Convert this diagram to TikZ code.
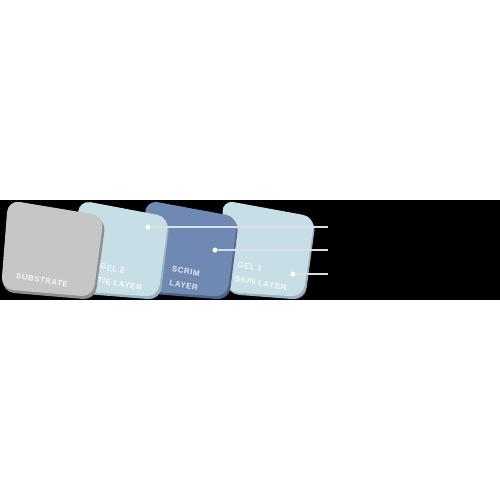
\documentclass[tikz,border=0pt]{standalone}
\usepackage{fontspec}
\setmainfont{Liberation Sans}[LetterSpace=7]
\usepackage{tikz}

\definecolor{subgrey}{HTML}{C6C6C6}
\definecolor{subshade}{HTML}{8E8E8E}
\definecolor{gelblue}{HTML}{C8DEE6}
\definecolor{gelshade}{HTML}{9CB2BE}
\definecolor{scrimblue}{HTML}{6F89B3}
\definecolor{scrimshade}{HTML}{4C638C}
\definecolor{leadgrey}{HTML}{D6DEE6}

\tikzset{
    card/.style={rounded corners=12pt},
    lbl/.style={text=white, opacity=0.8, font=\bfseries\fontsize{8}{14}\selectfont,
        align=left, rotate=-10, inner sep=0pt},
    dot/.style={circle, fill=white, inner sep=0pt, minimum size=5pt},
    leader/.style={leadgrey, line width=1.4pt}
}

\begin{document}
\begin{tikzpicture}[x=1pt,y=-1pt]
    \useasboundingbox (0,0) rectangle (500,500);
    \fill[white] (0,0) rectangle (500,500);
    \fill[black] (0,200) rectangle (500,300);
    % gel 1 (back)
    \fill[card, gelshade] (223,201) -- (316,219) -- (305,300) -- (227,294) -- cycle;
    \fill[card, gelblue] (222,200) -- (315,217) -- (303,297) -- (226,292) -- cycle;
    % scrim
    \fill[card, scrimshade] (147,201) -- (239,219) -- (229,300) -- (141,293) -- cycle;
    \fill[card, scrimblue] (146,200) -- (238,217) -- (227,297) -- (140,291) -- cycle;
    % gel 2
    \fill[card, gelshade] (80,201) -- (170,219) -- (160,300) -- (73,293) -- cycle;
    \fill[card, gelblue] (79,200) -- (169,217) -- (158,297) -- (72,291) -- cycle;
    % substrate (front)
    \fill[card, subshade] (9,202) -- (106,219) -- (95,300) -- (2,292) -- cycle;
    \fill[card, subgrey] (8,200) -- (104,216) -- (93,297) -- (1,289) -- cycle;
    % labels
    \node[lbl] (substratelbl) at (42,280) {SUBSTRATE};
    \node[lbl] (tielbl) at (121,277) {GEL 2\\TIE LAYER};
    \node[lbl] (scrimlbl) at (185,278) {SCRIM\\LAYER};
    \node[lbl] (skinlbl) at (262,276) {GEL 1\\SKIN LAYER};
    % leaders
    \node[dot] (tiedot) at (148,227) {};
    \node[dot] (scrimdot) at (215,250) {};
    \node[dot] (skindot) at (293,274) {};
    \coordinate (tieend) at (328,227);
    \coordinate (scrimend) at (328,250);
    \coordinate (skinend) at (328,274);
    \draw[leader] (tiedot) -- (tieend);
    \draw[leader] (scrimdot) -- (scrimend);
    \draw[leader] (skindot) -- (skinend);
\end{tikzpicture}
\end{document}
